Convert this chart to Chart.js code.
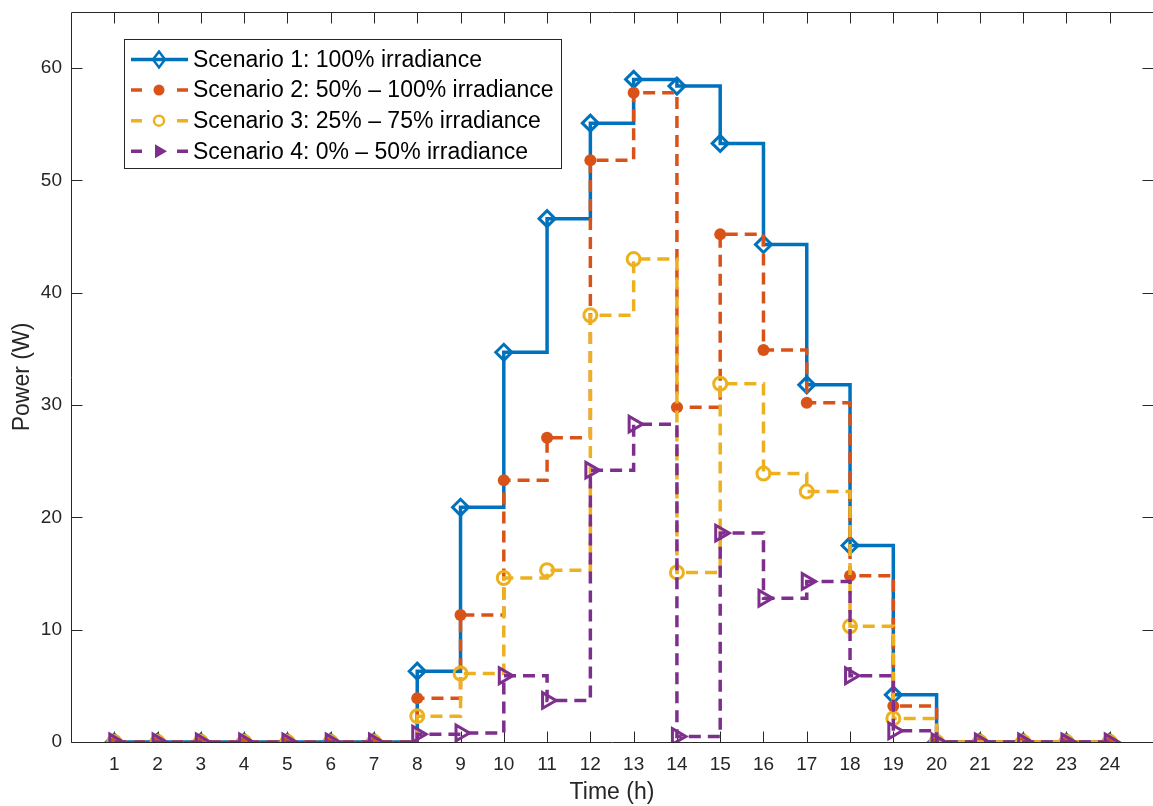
<!DOCTYPE html>
<html>
<head>
<meta charset="utf-8">
<script src="https://cdn.jsdelivr.net/npm/chart.js@4.4.1/dist/chart.umd.min.js"></script>
<style>
  html, body { margin: 0; padding: 0; background: #fff; overflow: hidden; }
  canvas { display: block; }
</style>
</head>
<body>
<canvas id="myChart" width="1165" height="806"></canvas>
<script>
'use strict'

// Hours of the day (x axis)
const hours = [1, 2, 3, 4, 5, 6, 7, 8, 9, 10, 11, 12, 13, 14, 15, 16, 17, 18, 19, 20, 21, 22, 23, 24];
const powerTicks = [0, 10, 20, 30, 40, 50, 60];

// Power (W)
const scenario1 = [0, 0, 0, 0, 0, 0, 0, 6.3, 20.9, 34.7, 46.6, 55.1, 59.0, 58.4, 53.3, 44.3, 31.8, 17.5, 4.2, 0, 0, 0, 0, 0];
const scenario2 = [0, 0, 0, 0, 0, 0, 0, 3.9, 11.3, 23.3, 27.1, 51.8, 57.8, 29.8, 45.2, 34.9, 30.2, 14.8, 3.2, 0, 0, 0, 0, 0];
const scenario3 = [0, 0, 0, 0, 0, 0, 0, 2.3, 6.1, 14.6, 15.3, 38.0, 43.0, 15.1, 31.9, 23.9, 22.3, 10.3, 2.1, 0, 0, 0, 0, 0];
const scenario4 = [0, 0, 0, 0, 0, 0, 0, 0.7, 0.8, 5.9, 3.7, 24.2, 28.3, 0.5, 18.6, 12.8, 14.3, 5.9, 1.0, 0, 0, 0, 0, 0];

const labels = [
    'Scenario 1: 100% irradiance',
    'Scenario 2: 50% \u2013 100% irradiance',
    'Scenario 3: 25% \u2013 75% irradiance',
    'Scenario 4: 0% \u2013 50% irradiance'
];

const colBlue = '#0072BD',
      colOrange = '#D95319',
      colYellow = '#EDB120',
      colPurple = '#7E2F8E';

const axisColor = '#262626';
const fontFamily = '"Liberation Sans", Arial, Helvetica, sans-serif';

function toPoints(values) {
    return hours.map((h, i) => ({ x: h, y: values[i] }));
}

// no extra padding for tick labels, the box is fixed
function noPad(s) {
    s.paddingTop = 0;
    s.paddingBottom = 0;
    s.paddingLeft = 0;
    s.paddingRight = 0;
}

// MATLAB style box with inward ticks
const axesBox = {
    id: 'axesBox',
    beforeDatasetsDraw(chart) {
        const ctx = chart.ctx;
        const area = chart.chartArea;
        const xs = chart.scales.x, ys = chart.scales.y;
        const L = Math.round(area.left) + 0.5, R = Math.round(area.right) + 0.5;
        const T = Math.round(area.top) + 0.5, B = Math.round(area.bottom) + 0.5;
        const tl = 11;
        ctx.save();
        ctx.strokeStyle = axisColor;
        ctx.lineWidth = 1;
        ctx.beginPath();
        ctx.rect(L, T, R - L, B - T);
        hours.forEach(h => {
            const px = Math.round(xs.getPixelForValue(h)) + 0.5;
            ctx.moveTo(px, B); ctx.lineTo(px, B - tl);
            ctx.moveTo(px, T); ctx.lineTo(px, T + tl);
        });
        powerTicks.forEach(v => {
            const py = Math.round(ys.getPixelForValue(v)) + 0.5;
            ctx.moveTo(L, py); ctx.lineTo(L + tl, py);
            ctx.moveTo(R, py); ctx.lineTo(R - tl, py);
        });
        ctx.stroke();
        ctx.restore();
    }
};

function drawMarker(ctx, kind, x, y, color) {
    ctx.save();
    ctx.strokeStyle = color;
    ctx.fillStyle = color;
    ctx.lineWidth = 2.5;
    ctx.setLineDash([]);
    ctx.beginPath();
    if (kind === 'diamond') {
        ctx.moveTo(x, y - 8); ctx.lineTo(x + 6, y); ctx.lineTo(x, y + 8); ctx.lineTo(x - 6, y); ctx.closePath();
        ctx.stroke();
    } else if (kind === 'dot') {
        ctx.arc(x, y, 5.5, 0, Math.PI * 2);
        ctx.fill();
    } else if (kind === 'ring') {
        ctx.arc(x, y, 5, 0, Math.PI * 2);
        ctx.stroke();
    } else {
        const r = 8;
        for (let k = 0; k < 3; k++) {
            const a = k * 2 * Math.PI / 3;
            const px = x + Math.cos(a) * r, py = y + Math.sin(a) * r;
            if (k === 0) ctx.moveTo(px, py); else ctx.lineTo(px, py);
        }
        ctx.closePath();
        ctx.fill();
    }
    ctx.restore();
}

// legend drawn inside the axes, upper left
const boxLegend = {
    id: 'boxLegend',
    afterDraw(chart) {
        const ctx = chart.ctx;
        const bx = 124.5, by = 39.5, bw = 437, bh = 129;
        const rows = [
            { color: colBlue, marker: 'diamond', solid: true },
            { color: colOrange, marker: 'dot', solid: false },
            { color: colYellow, marker: 'ring', solid: false },
            { color: colPurple, marker: 'tri', solid: false }
        ];
        ctx.save();
        ctx.fillStyle = '#fff';
        ctx.fillRect(bx, by, bw, bh);
        ctx.strokeStyle = axisColor;
        ctx.lineWidth = 1;
        ctx.strokeRect(bx, by, bw, bh);

        rows.forEach((row, i) => {
            const cy = 59.5 + i * 30.6;
            ctx.strokeStyle = row.color;
            ctx.lineWidth = 3.5;
            ctx.beginPath();
            if (row.solid) {
                ctx.moveTo(131, cy); ctx.lineTo(188, cy);
            } else {
                ctx.moveTo(131, cy); ctx.lineTo(142, cy);
                ctx.moveTo(177, cy); ctx.lineTo(188, cy);
            }
            ctx.stroke();
            drawMarker(ctx, row.marker, 159, cy, row.color);

            ctx.fillStyle = '#000';
            ctx.font = '23px ' + fontFamily;
            ctx.textBaseline = 'middle';
            ctx.textAlign = 'left';
            ctx.fillText(labels[i], 193, cy + 1);
        });
        ctx.restore();
    }
};

const ctxPower = document.getElementById('myChart').getContext('2d');

const chart = new Chart(ctxPower, {
    type: 'line',
    data: {
        datasets: [{
            label: labels[0],
            data: toPoints(scenario1),
            borderColor: colBlue,
            borderWidth: 3.5,
            stepped: 'before',
            pointStyle: 'rectRot',
            pointRadius: 8,
            pointBorderWidth: 3,
            pointBorderColor: colBlue,
            pointBackgroundColor: 'rgba(0,0,0,0)',
            order: 4
        }, {
            label: labels[1],
            data: toPoints(scenario2),
            borderColor: colOrange,
            borderWidth: 3.5,
            borderDash: [12, 7],
            stepped: 'before',
            pointStyle: 'circle',
            pointRadius: 6,
            pointBorderWidth: 0,
            pointBorderColor: colOrange,
            pointBackgroundColor: colOrange,
            order: 3
        }, {
            label: labels[2],
            data: toPoints(scenario3),
            borderColor: colYellow,
            borderWidth: 3.5,
            borderDash: [12, 7],
            stepped: 'before',
            pointStyle: 'circle',
            pointRadius: 6.5,
            pointBorderWidth: 3,
            pointBorderColor: colYellow,
            pointBackgroundColor: 'rgba(0,0,0,0)',
            order: 2
        }, {
            label: labels[3],
            data: toPoints(scenario4),
            borderColor: colPurple,
            borderWidth: 3.5,
            borderDash: [12, 7],
            stepped: 'before',
            pointStyle: 'triangle',
            pointRotation: 90,
            pointRadius: 9,
            pointBorderWidth: 3,
            pointBorderColor: colPurple,
            pointBackgroundColor: 'rgba(0,0,0,0)',
            order: 1
        }]
    },
    options: {
        responsive: false,
        animation: false,
        layout: { padding: { top: 12, right: 8, left: 0, bottom: 0 } },
        plugins: {
            legend: { display: false },
            tooltip: { enabled: false }
        },
        elements: { line: { tension: 0, fill: false, borderCapStyle: 'butt' } },
        scales: {
            x: {
                type: 'linear',
                min: 0,
                max: 25,
                grid: { display: false, drawTicks: false },
                border: { display: false },
                afterBuildTicks: s => { s.ticks = hours.map(v => ({ value: v })); },
                afterFit: s => { s.height = 64; noPad(s); },
                ticks: {
                    autoSkip: false,
                    maxRotation: 0,
                    padding: 11,
                    color: axisColor,
                    font: { family: fontFamily, size: 19 }
                },
                title: {
                    display: true,
                    text: 'Time (h)',
                    color: axisColor,
                    padding: { top: 0, bottom: 0 },
                    font: { family: fontFamily, size: 23 }
                }
            },
            y: {
                min: 0,
                max: 65,
                grid: { display: false, drawTicks: false },
                border: { display: false },
                afterBuildTicks: s => { s.ticks = powerTicks.map(v => ({ value: v })); },
                afterFit: s => { s.width = 71; noPad(s); },
                ticks: {
                    padding: 9,
                    color: axisColor,
                    font: { family: fontFamily, size: 19 }
                },
                title: {
                    display: true,
                    text: 'Power (W)',
                    color: axisColor,
                    padding: { top: 9, bottom: 0 },
                    font: { family: fontFamily, size: 23 }
                }
            }
        }
    },
    plugins: [axesBox, boxLegend]
});
</script>
</body>
</html>
